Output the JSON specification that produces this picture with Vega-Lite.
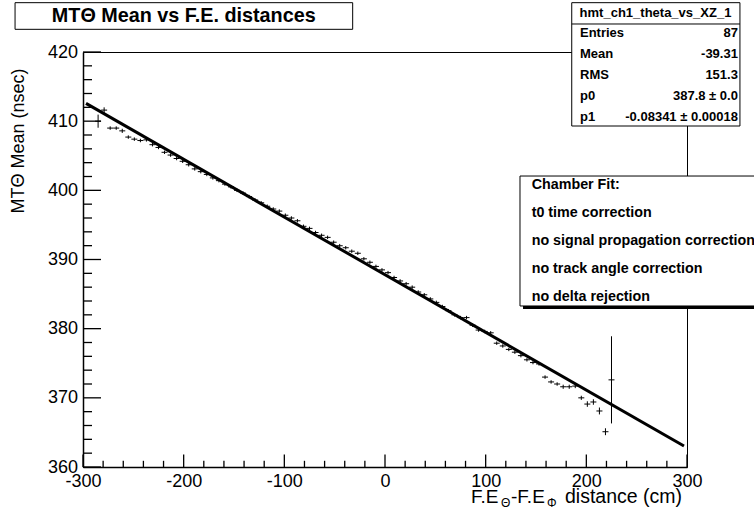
{
  "$schema": "https://vega.github.io/schema/vega-lite/v6.json",
  "autosize": {"type": "none"},
  "width": 604,
  "height": 415,
  "padding": {"left": 83, "top": 52, "right": 67, "bottom": 47},
  "background": "white",
  "config": {
    "view": {"stroke": "black", "strokeWidth": 1},
    "font": "Liberation Sans",
    "axis": {"grid": false, "ticks": false, "domain": true, "domainColor": "black", "domainWidth": 1.5, "labelColor": "black", "labelFont": "Liberation Sans", "labelFontSize": 18, "titleFont": "Liberation Sans", "titleColor": "black", "labelOverlap": false, "labelFlush": false}
  },
  "datasets": {
    "profile": [
      {"x": -285, "y": 410.0, "ey": 0.95},
      {"x": -279, "y": 411.6, "ey": 0.4},
      {"x": -273, "y": 409.0, "ey": 0.25},
      {"x": -267, "y": 409.0, "ey": 0.25},
      {"x": -261, "y": 408.6, "ey": 0.3},
      {"x": -255, "y": 407.7, "ey": 0.25},
      {"x": -249, "y": 407.4, "ey": 0.25},
      {"x": -243, "y": 407.2, "ey": 0.25},
      {"x": -237, "y": 407.3, "ey": 0.25},
      {"x": -231, "y": 406.6, "ey": 0.25},
      {"x": -225, "y": 406.2, "ey": 0.25},
      {"x": -219, "y": 405.5, "ey": 0.25},
      {"x": -213, "y": 405.1, "ey": 0.25},
      {"x": -207, "y": 404.6, "ey": 0.25},
      {"x": -201, "y": 404.2, "ey": 0.25},
      {"x": -195, "y": 403.7, "ey": 0.25},
      {"x": -189, "y": 403.1, "ey": 0.25},
      {"x": -183, "y": 402.7, "ey": 0.25},
      {"x": -177, "y": 402.3, "ey": 0.25},
      {"x": -171, "y": 401.8, "ey": 0.25},
      {"x": -165, "y": 401.4, "ey": 0.25},
      {"x": -159, "y": 400.9, "ey": 0.25},
      {"x": -153, "y": 400.5, "ey": 0.25},
      {"x": -147, "y": 400.0, "ey": 0.25},
      {"x": -141, "y": 399.6, "ey": 0.25},
      {"x": -135, "y": 399.1, "ey": 0.25},
      {"x": -129, "y": 398.6, "ey": 0.25},
      {"x": -123, "y": 398.2, "ey": 0.25},
      {"x": -117, "y": 397.7, "ey": 0.25},
      {"x": -111, "y": 397.3, "ey": 0.25},
      {"x": -105, "y": 397.0, "ey": 0.25},
      {"x": -99, "y": 396.4, "ey": 0.25},
      {"x": -93, "y": 396.0, "ey": 0.25},
      {"x": -87, "y": 395.6, "ey": 0.25},
      {"x": -81, "y": 394.8, "ey": 0.25},
      {"x": -75, "y": 394.5, "ey": 0.25},
      {"x": -69, "y": 393.9, "ey": 0.25},
      {"x": -63, "y": 393.5, "ey": 0.25},
      {"x": -57, "y": 393.2, "ey": 0.25},
      {"x": -51, "y": 392.5, "ey": 0.25},
      {"x": -45, "y": 392.0, "ey": 0.25},
      {"x": -39, "y": 391.7, "ey": 0.25},
      {"x": -33, "y": 391.2, "ey": 0.25},
      {"x": -27, "y": 390.9, "ey": 0.25},
      {"x": -21, "y": 390.1, "ey": 0.25},
      {"x": -15, "y": 389.6, "ey": 0.25},
      {"x": -9, "y": 389.0, "ey": 0.25},
      {"x": -3, "y": 388.5, "ey": 0.25},
      {"x": 3, "y": 388.1, "ey": 0.25},
      {"x": 9, "y": 387.4, "ey": 0.25},
      {"x": 15, "y": 386.9, "ey": 0.25},
      {"x": 21, "y": 386.5, "ey": 0.25},
      {"x": 27, "y": 386.0, "ey": 0.25},
      {"x": 33, "y": 385.3, "ey": 0.25},
      {"x": 39, "y": 384.9, "ey": 0.25},
      {"x": 45, "y": 384.3, "ey": 0.25},
      {"x": 51, "y": 383.8, "ey": 0.25},
      {"x": 57, "y": 383.2, "ey": 0.25},
      {"x": 63, "y": 382.6, "ey": 0.25},
      {"x": 69, "y": 382.0, "ey": 0.25},
      {"x": 75, "y": 381.6, "ey": 0.25},
      {"x": 81, "y": 381.6, "ey": 0.25},
      {"x": 87, "y": 380.5, "ey": 0.25},
      {"x": 93, "y": 379.8, "ey": 0.25},
      {"x": 99, "y": 379.6, "ey": 0.25},
      {"x": 105, "y": 379.4, "ey": 0.25},
      {"x": 111, "y": 377.9, "ey": 0.25},
      {"x": 117, "y": 377.5, "ey": 0.25},
      {"x": 123, "y": 377.0, "ey": 0.25},
      {"x": 129, "y": 376.6, "ey": 0.25},
      {"x": 135, "y": 376.1, "ey": 0.25},
      {"x": 141, "y": 375.5, "ey": 0.25},
      {"x": 147, "y": 375.1, "ey": 0.25},
      {"x": 153, "y": 374.9, "ey": 0.25},
      {"x": 159, "y": 373.0, "ey": 0.25},
      {"x": 165, "y": 372.3, "ey": 0.25},
      {"x": 171, "y": 372.0, "ey": 0.25},
      {"x": 177, "y": 371.6, "ey": 0.3},
      {"x": 183, "y": 371.6, "ey": 0.3},
      {"x": 189, "y": 371.7, "ey": 0.3},
      {"x": 195, "y": 370.0, "ey": 0.3},
      {"x": 201, "y": 369.1, "ey": 0.4},
      {"x": 207, "y": 369.4, "ey": 0.4},
      {"x": 213, "y": 368.1, "ey": 0.5},
      {"x": 219, "y": 365.1, "ey": 0.5},
      {"x": 225, "y": 372.6, "ey": 6.3}
    ],
    "fit": [
      {"x": -297, "y": 412.57},
      {"x": 297, "y": 363.03}
    ],
    "xMajor": [{"v": -300}, {"v": -200}, {"v": -100}, {"v": 0}, {"v": 100}, {"v": 200}, {"v": 300}],
    "xMinor": [{"v": -280}, {"v": -260}, {"v": -240}, {"v": -220}, {"v": -180}, {"v": -160}, {"v": -140}, {"v": -120}, {"v": -80}, {"v": -60}, {"v": -40}, {"v": -20}, {"v": 20}, {"v": 40}, {"v": 60}, {"v": 80}, {"v": 120}, {"v": 140}, {"v": 160}, {"v": 180}, {"v": 220}, {"v": 240}, {"v": 260}, {"v": 280}],
    "yMajor": [{"v": 360}, {"v": 370}, {"v": 380}, {"v": 390}, {"v": 400}, {"v": 410}, {"v": 420}],
    "yMinor": [{"v": 362}, {"v": 364}, {"v": 366}, {"v": 368}, {"v": 372}, {"v": 374}, {"v": 376}, {"v": 378}, {"v": 382}, {"v": 384}, {"v": 386}, {"v": 388}, {"v": 392}, {"v": 394}, {"v": 396}, {"v": 398}, {"v": 402}, {"v": 404}, {"v": 406}, {"v": 408}, {"v": 412}, {"v": 414}, {"v": 416}, {"v": 418}]
  },
  "layer": [
    {
      "data": {"name": "profile"},
      "mark": {"type": "errorbar", "ticks": false, "rule": {"stroke": "black", "strokeWidth": 1}},
      "encoding": {
        "x": {"field": "x", "type": "quantitative", "scale": {"domain": [-300, 300], "nice": false, "zero": false},
          "axis": {"orient": "bottom", "title": null, "values": [-300,-200,-100,0,100,200,300],
            "labelExpr": "'' + datum.value", "labelPadding": 5.5}},
        "y": {"field": "y", "type": "quantitative", "scale": {"domain": [360, 420], "nice": false, "zero": false},
          "axis": {"orient": "left", "title": "MTΘ Mean (nsec)", "titleFontSize": 18, "titleFontWeight": "normal", "titleX": -65, "titleY": 16, "titleAlign": "right", "titleBaseline": "middle", "titleAngle": 270,
            "values": [360,370,380,390,400,410,420], "labelExpr": "'' + datum.value", "labelPadding": 5.5}},
        "yError": {"field": "ey"}
      }
    },
    {
      "data": {"name": "xMajor"},
      "mark": {"type": "tick", "orient": "vertical", "size": 12.5, "thickness": 1.3, "color": "black", "opacity": 1, "yOffset": -6.25},
      "encoding": {"x": {"field": "v", "type": "quantitative"}, "y": {"datum": 360}}
    },
    {
      "data": {"name": "xMinor"},
      "mark": {"type": "tick", "orient": "vertical", "size": 6.2, "thickness": 1.3, "color": "black", "opacity": 1, "yOffset": -3.1},
      "encoding": {"x": {"field": "v", "type": "quantitative"}, "y": {"datum": 360}}
    },
    {
      "data": {"name": "yMajor"},
      "mark": {"type": "tick", "orient": "horizontal", "size": 18, "thickness": 1.3, "color": "black", "opacity": 1, "xOffset": 9},
      "encoding": {"y": {"field": "v", "type": "quantitative"}, "x": {"datum": -300}}
    },
    {
      "data": {"name": "yMinor"},
      "mark": {"type": "tick", "orient": "horizontal", "size": 9, "thickness": 1.3, "color": "black", "opacity": 1, "xOffset": 4.5},
      "encoding": {"y": {"field": "v", "type": "quantitative"}, "x": {"datum": -300}}
    },
    {
      "data": {"name": "profile"},
      "mark": {"type": "tick", "orient": "horizontal", "size": 6, "thickness": 1, "color": "black", "opacity": 1},
      "encoding": {
        "x": {"field": "x", "type": "quantitative"},
        "y": {"field": "y", "type": "quantitative"}
      }
    },
    {
      "data": {"name": "fit"},
      "mark": {"type": "line", "color": "black", "strokeWidth": 3},
      "encoding": {
        "x": {"field": "x", "type": "quantitative"},
        "y": {"field": "y", "type": "quantitative"}
      }
    },
    {
      "data": {"values": [{}]},
      "mark": {"type": "rect", "fill": "white", "stroke": "black", "strokeWidth": 1},
      "encoding": {"x": {"datum": -367.5}, "x2": {"datum": -32.1}, "y": {"datum": 427.13}, "y2": {"datum": 423.28}}
    },
    {
      "data": {"values": [{}]},
      "mark": {"type": "text", "font": "Liberation Sans", "fontWeight": "bold", "fontSize": 19.8, "align": "center", "baseline": "middle", "color": "black"},
      "encoding": {"x": {"datum": -199.9}, "y": {"datum": 425.2}, "text": {"value": "MTΘ Mean vs F.E. distances"}}
    },
    {
      "data": {"values": [{}]},
      "mark": {"type": "rect", "fill": "white", "stroke": "black", "strokeWidth": 1},
      "encoding": {"x": {"datum": 185.5}, "x2": {"datum": 352.6}, "y": {"datum": 427.13}, "y2": {"datum": 409.3}}
    },
    {
      "data": {"values": [{}]},
      "mark": {"type": "rule", "stroke": "black", "strokeWidth": 1},
      "encoding": {"x": {"datum": 185.5}, "x2": {"datum": 352.6}, "y": {"datum": 424.05}}
    },
    {
      "data": {"values": [{}]},
      "mark": {"type": "text", "font": "Liberation Sans", "fontWeight": "bold", "fontSize": 13, "align": "center", "baseline": "middle", "color": "black"},
      "encoding": {"x": {"datum": 268.7}, "y": {"datum": 425.71}, "text": {"value": "hmt_ch1_theta_vs_XZ_1"}}
    },
    {
      "data": {"values": [{}]},
      "mark": {"type": "text", "font": "Liberation Sans", "fontWeight": "bold", "fontSize": 13, "align": "left", "baseline": "middle", "lineHeight": 20.85, "color": "black"},
      "encoding": {"x": {"datum": 193.7}, "y": {"datum": 422.7}, "text": {"value": ["Entries", "Mean", "RMS", "p0", "p1"]}}
    },
    {
      "data": {"values": [{}]},
      "mark": {"type": "text", "font": "Liberation Sans", "fontWeight": "bold", "fontSize": 13, "align": "right", "baseline": "middle", "lineHeight": 20.85, "color": "black"},
      "encoding": {"x": {"datum": 350.6}, "y": {"datum": 422.7}, "text": {"value": ["87", "-39.31", "151.3", "387.8 ± 0.0", "-0.08341 ± 0.00018"]}}
    },
    {
      "data": {"values": [{}]},
      "mark": {"type": "rect", "fill": "black"},
      "encoding": {"x": {"datum": 137.1}, "x2": {"datum": 415}, "y": {"datum": 401.64}, "y2": {"datum": 382.85}}
    },
    {
      "data": {"values": [{}]},
      "mark": {"type": "rect", "fill": "white", "stroke": "black", "strokeWidth": 1},
      "encoding": {"x": {"datum": 134.1}, "x2": {"datum": 412}, "y": {"datum": 402.07}, "y2": {"datum": 383.28}}
    },
    {
      "data": {"values": [{}]},
      "mark": {"type": "text", "font": "Liberation Sans", "fontWeight": "bold", "fontSize": 14.3, "align": "left", "baseline": "middle", "lineHeight": 27.9, "color": "black"},
      "encoding": {"x": {"datum": 145.7}, "y": {"datum": 400.77}, "text": {"value": ["Chamber Fit:", "t0 time correction", "no signal propagation correction", "no track angle correction", "no delta rejection"]}}
    },
    {
      "data": {"values": [{}]},
      "mark": {"type": "text", "font": "Liberation Sans", "fontSize": 19, "align": "left", "baseline": "middle", "color": "black"},
      "encoding": {"x": {"datum": 85.4}, "y": {"datum": 355.66}, "text": {"value": "F.E"}}
    },
    {
      "data": {"values": [{}]},
      "mark": {"type": "text", "font": "Liberation Sans", "fontSize": 12, "align": "left", "baseline": "middle", "color": "black"},
      "encoding": {"x": {"datum": 115.2}, "y": {"datum": 354.8}, "text": {"value": "Θ"}}
    },
    {
      "data": {"values": [{}]},
      "mark": {"type": "text", "font": "Liberation Sans", "fontSize": 19, "align": "left", "baseline": "middle", "color": "black"},
      "encoding": {"x": {"datum": 125.2}, "y": {"datum": 355.66}, "text": {"value": "-F.E"}}
    },
    {
      "data": {"values": [{}]},
      "mark": {"type": "text", "font": "Liberation Sans", "fontSize": 12, "align": "left", "baseline": "middle", "color": "black"},
      "encoding": {"x": {"datum": 160.9}, "y": {"datum": 354.8}, "text": {"value": "Φ"}}
    },
    {
      "data": {"values": [{}]},
      "mark": {"type": "text", "font": "Liberation Sans", "fontSize": 19.5, "align": "left", "baseline": "middle", "color": "black"},
      "encoding": {"x": {"datum": 178.8}, "y": {"datum": 355.66}, "text": {"value": "distance (cm)"}}
    }
  ]
}
